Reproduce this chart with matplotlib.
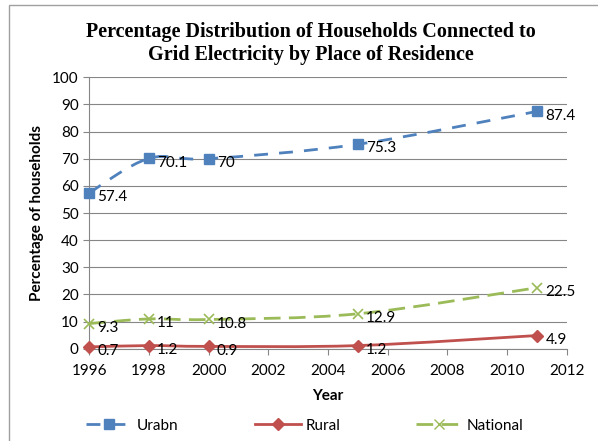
import numpy as np
import matplotlib.pyplot as plt
from matplotlib.path import Path
from matplotlib.patches import PathPatch, Rectangle
from matplotlib.lines import Line2D

years = [1996, 1998, 2000, 2005, 2011]
urban = [57.4, 70.1, 70, 75.3, 87.4]
rural = [0.7, 1.2, 0.9, 1.2, 4.9]
national = [9.3, 11, 10.8, 12.9, 22.5]
labels = ["Urabn", "Rural", "National"]

BLUE = "#4F81BD"
RED = "#C0504D"
GREEN = "#9BBB59"
SANS = ["Lato", "DejaVu Sans"]


def smooth_path(x, y):
    # excel-style smoothed line: cubic bezier through each pair of points
    x = np.asarray(x, float)
    y = np.asarray(y, float)
    n = len(x)
    verts = [(x[0], y[0])]
    codes = [Path.MOVETO]
    for i in range(n - 1):
        i0 = max(i - 1, 0)
        i3 = min(i + 2, n - 1)
        c1 = (x[i] + (x[i + 1] - x[i0]) / 6, y[i] + (y[i + 1] - y[i0]) / 6)
        c2 = (x[i + 1] - (x[i3] - x[i]) / 6, y[i + 1] - (y[i3] - y[i]) / 6)
        verts += [c1, c2, (x[i + 1], y[i + 1])]
        codes += [Path.CURVE4] * 3
    return Path(verts, codes)


fig = plt.figure(figsize=(5.98, 4.41), dpi=100)
ax = fig.add_axes([0.149, 0.209, 0.799, 0.616])

series = [
    (urban, BLUE, "s", (0, (5, 4)), 7),
    (rural, RED, "D", "-", 6),
    (national, GREEN, "x", (0, (6, 3)), 7),
]
handles = []
for vals, col, mk, ls, ms in series:
    ax.add_patch(PathPatch(smooth_path(years, vals), fill=False, edgecolor=col,
                           lw=2, linestyle=ls, zorder=3, clip_on=False))
    ax.plot(years, vals, linestyle="none", marker=mk, color=col, markersize=ms,
            markeredgewidth=1.2 if mk == "x" else 1, zorder=4, clip_on=False)
    for xv, yv in zip(years, vals):
        ax.annotate(f"{yv:g}", (xv, yv), xytext=(6, -3), textcoords="offset points",
                    ha="left", va="center", fontsize=11, family=SANS, zorder=5)
    handles.append(Line2D([], [], color=col, lw=2, linestyle=ls, marker=mk, markersize=ms))

ax.set_xlim(1996, 2012)
ax.set_ylim(0, 100)
ax.set_xticks(range(1996, 2013, 2))
ax.set_yticks(range(0, 101, 10))
ax.grid(axis="y", color="#868686", lw=0.8)
ax.set_axisbelow(True)
for s in ["top", "right"]:
    ax.spines[s].set_visible(False)
for s in ["left", "bottom"]:
    ax.spines[s].set_color("#868686")
ax.tick_params(colors="#868686", labelcolor="black", labelsize=11, length=4)
ax.tick_params(axis="x", pad=7)
for t in ax.get_xticklabels() + ax.get_yticklabels():
    t.set_family(SANS)

ax.set_xlabel("Year", fontsize=11, fontweight="bold", family=SANS, labelpad=8)
ax.set_ylabel("Percentage of households", fontsize=11, fontweight="bold", family=SANS, labelpad=6)
fig.suptitle("Percentage Distribution of Households Connected to\nGrid Electricity by Place of Residence",
             x=0.52, y=0.95, fontsize=14.5, fontweight="bold", family="Liberation Serif", linespacing=1.2)

fig.legend(handles, labels, loc="center", bbox_to_anchor=(0.51, 0.035), ncol=3, frameon=False,
           prop={"family": SANS, "size": 11}, columnspacing=5, handlelength=3.0, handletextpad=0.3)

fig.add_artist(Rectangle((0.015, -0.01), 1.0, 0.999, transform=fig.transFigure,
                         fill=False, edgecolor="#a0a0a0", lw=1))

fig.savefig("out.png", dpi=100)
